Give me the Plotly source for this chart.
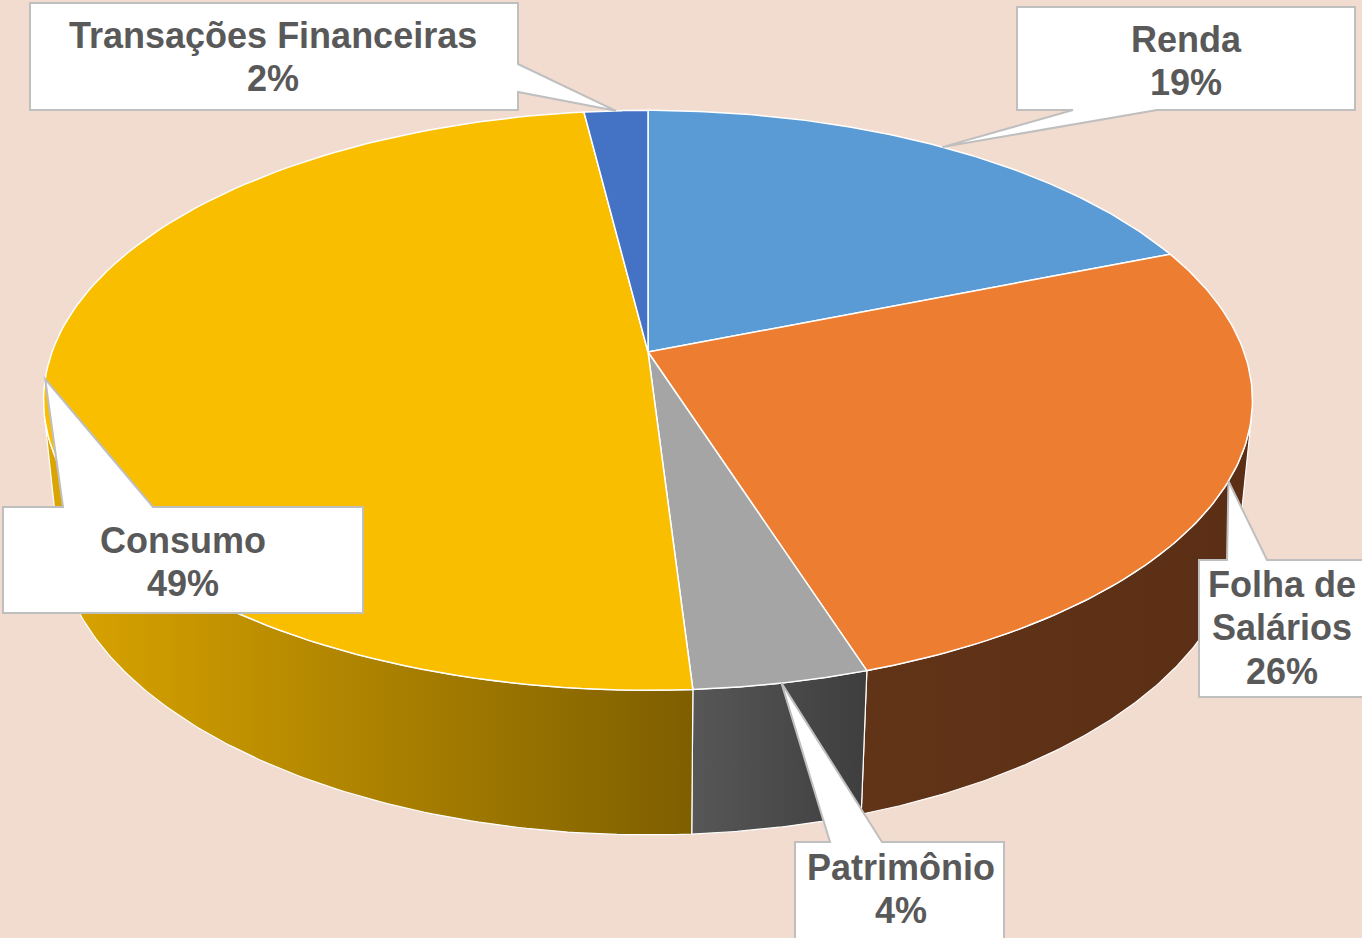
import numpy as np
import plotly.graph_objects as go

# ---------------- data ----------------
categories = ["Renda", "Folha de Salários", "Patrimônio", "Consumo", "Transações Financeiras"]
values = [19, 26, 4, 49, 2]
label_lines = [["Renda"], ["Folha de", "Salários"], ["Patrimônio"], ["Consumo"], ["Transações Financeiras"]]

# ---------------- styles ----------------
top_colors = ["#5B9BD5", "#EC7D31", "#A5A5A5", "#FABE00", "#4472C4"]
side_colors = [
    ["#3F6E99", "#3F6E99"],
    ["#613418", "#5B2F15"],
    ["#575757", "#3E3E3E"],
    ["#DCA600", "#7E5F00"],
    ["#2F4F8A", "#2F4F8A"],
]
BG = "#F2DCCF"
TEXT = "#595959"
BORDER = "#BFBFBF"

# perspective projection parameters (pixel space)
SIN_E = 0.473
COS_E = np.sqrt(1 - SIN_E ** 2)
DIST = 6 * COS_E
FOC = 596 * DIST
THICK = 0.25
CX, CY = 648, 352


def proj(X, Y, z):
    X = np.asarray(X, float)
    Y = np.asarray(Y, float)
    depth = Y * COS_E + DIST - z * SIN_E
    up = Y * SIN_E + z * COS_E
    return CX + FOC * X / depth, CY - FOC * up / depth


def arc(a, b, z, n=120):
    t = np.radians(np.linspace(a, b, n))
    return proj(np.sin(t), np.cos(t), z)


total = sum(values)
bounds = np.concatenate([[0], np.cumsum(values)]) / total * 360.0
vis_lo = np.degrees(np.arccos(-1.0 / (DIST * COS_E)))
vis_hi = 360 - vis_lo

fig = go.Figure()

# side walls
for i, cat in enumerate(categories):
    a, b = bounds[i], bounds[i + 1]
    lo, hi = max(a, vis_lo), min(b, vis_hi)
    if lo >= hi:
        continue
    tx, ty = arc(lo, hi, 0)
    bx, by = arc(hi, lo, -THICK)
    xs = np.concatenate([tx, bx, tx[:1]])
    ys = np.concatenate([ty, by, ty[:1]])
    fig.add_trace(go.Scatter(
        x=xs, y=ys, mode="lines", fill="toself",
        fillgradient=dict(type="horizontal",
                          colorscale=[[0, side_colors[i][0]], [1, side_colors[i][1]]]),
        line=dict(color="white", width=1.2),
        hoverinfo="skip", showlegend=False))

# top faces
cx0, cy0 = proj(0, 0, 0)
for i, cat in enumerate(categories):
    a, b = bounds[i], bounds[i + 1]
    tx, ty = arc(a, b, 0)
    xs = np.concatenate([[cx0], tx, [cx0]])
    ys = np.concatenate([[cy0], ty, [cy0]])
    fig.add_trace(go.Scatter(
        x=xs, y=ys, mode="lines", fill="toself", fillcolor=top_colors[i],
        line=dict(color="white", width=1.5),
        name=cat, hoverinfo="name", showlegend=False))

# callout boxes (box rect, wedge side, wedge base, text centre x, first baseline)
callouts = [
    dict(box=(1017, 7, 1355, 110), side="bottom", base=(1073, 1157), cx=1186, base_y=52),
    dict(box=(1199, 560, 1375, 697), side="top", base=(1227, 1267), cx=1282, base_y=597),
    dict(box=(795, 842, 1004, 950), side="top", base=(830, 882), cx=901, base_y=880),
    dict(box=(3, 507, 363, 613), side="top", base=(63, 153), cx=183, base_y=553),
    dict(box=(30, 3, 518, 110), side="right", base=(64, 92), cx=273, base_y=48),
]

FS = 36
LINE_H = 43.5
for i, co in enumerate(callouts):
    mid = np.radians((bounds[i] + bounds[i + 1]) / 2)
    tipx, tipy = proj(np.sin(mid), np.cos(mid), 0)
    x0, y0, x1, y1 = co["box"]
    b0, b1 = co["base"]
    s = co["side"]
    if s == "top":
        pts = [(x0, y0), (b0, y0), (tipx, tipy), (b1, y0), (x1, y0), (x1, y1), (x0, y1)]
    elif s == "bottom":
        pts = [(x0, y0), (x1, y0), (x1, y1), (b1, y1), (tipx, tipy), (b0, y1), (x0, y1)]
    else:  # right
        pts = [(x0, y0), (x1, y0), (x1, b0), (tipx, tipy), (x1, b1), (x1, y1), (x0, y1)]
    path = "M " + " L ".join(f"{px:.1f},{py:.1f}" for px, py in pts) + " Z"
    fig.add_shape(type="path", path=path, fillcolor="white",
                  line=dict(color=BORDER, width=2), xref="x", yref="y")
    lines = label_lines[i] + [f"{values[i]}%"]
    for k, txt in enumerate(lines):
        fig.add_annotation(
            x=co["cx"], y=co["base_y"] + k * LINE_H - 0.36 * FS,
            xref="x", yref="y", text=f"<b>{txt}</b>", showarrow=False,
            xanchor="center", yanchor="middle",
            font=dict(family="Liberation Sans, Arial, sans-serif", size=FS, color=TEXT))

fig.update_layout(
    width=1362, height=938,
    margin=dict(l=0, r=0, t=0, b=0),
    paper_bgcolor=BG, plot_bgcolor=BG,
    xaxis=dict(range=[0, 1362], visible=False, fixedrange=True),
    yaxis=dict(range=[938, 0], visible=False, fixedrange=True),
    showlegend=False,
)

fig.write_html("out.html", config={"displayModeBar": False},
               post_script="document.body.style.margin='0';document.body.style.overflow='hidden';")
